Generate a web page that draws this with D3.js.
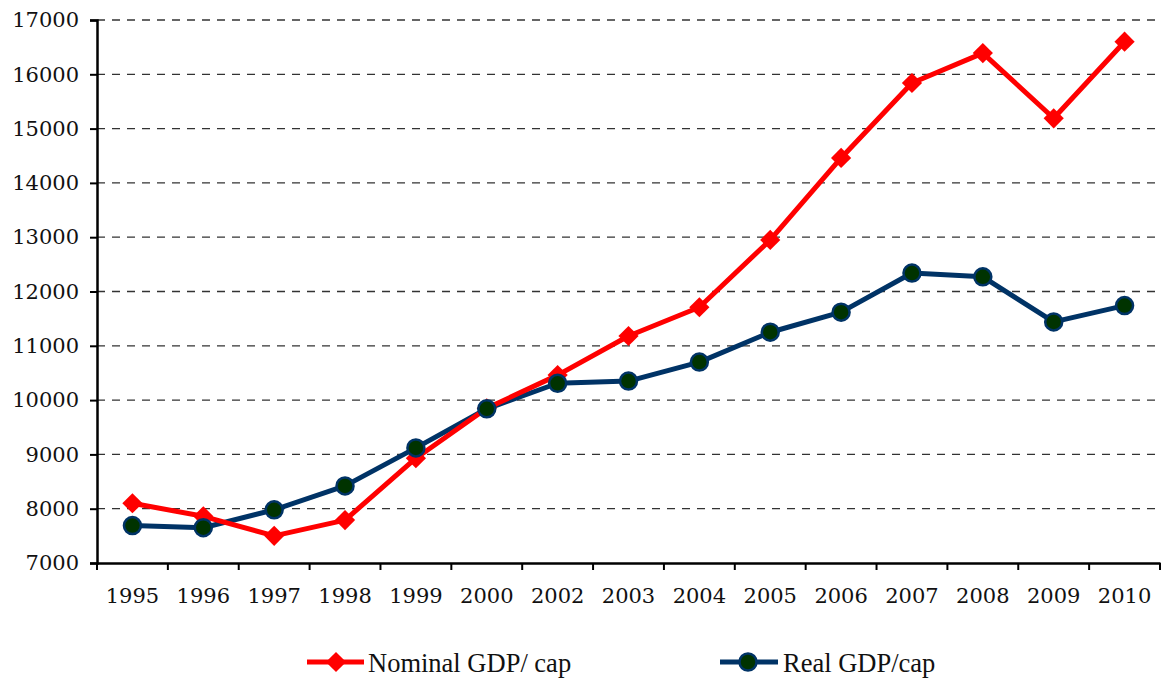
<!DOCTYPE html>
<html><head><meta charset="utf-8">
<script src="https://cdn.jsdelivr.net/npm/d3@7"></script>
<style>body{margin:0;background:#fff}svg{display:block}</style>
</head><body>
<script>
const years = ["1995","1996","1997","1998","1999","2000","2002","2003","2004","2005","2006","2007","2008","2009","2010"];
const nominal = [8100,7860,7500,7790,8930,9850,10460,11180,11710,12950,14460,15840,16390,15190,16600];
const real = [7690,7650,7980,8420,9120,9840,10310,10350,10700,11250,11620,12340,12270,11440,11740];
const yTicks = [7000,8000,9000,10000,11000,12000,13000,14000,15000,16000,17000];
const seriesNames = ["Nominal GDP/ cap","Real GDP/cap"];

(function(){
const W = 1161, H = 679;
const svg = d3.select("body").append("svg").attr("width",W).attr("height",H);
const mL = 97, mR = 1160, mT = 20, mB = 563;
const x = d3.scaleBand().domain(years).range([mL,mR]);
const y = d3.scaleLinear().domain([7000,17000]).range([mB,mT]);
const font = "DejaVu Serif";

// gridlines
svg.append("g").selectAll("line").data(yTicks.slice(1)).join("line")
  .attr("x1",mL).attr("x2",mR).attr("y1",d=>y(d)).attr("y2",d=>y(d))
  .attr("stroke","#333").attr("stroke-width",1.3).attr("stroke-dasharray","8,7");

// y axis
const ya = svg.append("g").attr("transform",`translate(${mL},0)`)
  .call(d3.axisLeft(y).tickValues(yTicks).tickSize(7).tickPadding(11).tickFormat(d3.format("d")));
ya.select(".domain").attr("stroke","#000").attr("stroke-width",2.5);
ya.selectAll(".tick line").attr("stroke","#000").attr("stroke-width",2);
ya.selectAll("text").attr("font-family",font).attr("font-size",21).attr("fill","#111");

// x axis
const xa = svg.append("g").attr("transform",`translate(0,${mB})`)
  .call(d3.axisBottom(x).tickSize(0).tickPadding(25));
xa.select(".domain").attr("stroke","#000").attr("stroke-width",2.5);
xa.selectAll("text").attr("font-family",font).attr("font-size",21).attr("fill","#111");
xa.append("g").selectAll("line").data(years.concat(["end"])).join("line")
  .attr("x1",(d,i)=> i<years.length ? x(d) : mR).attr("x2",(d,i)=> i<years.length ? x(d) : mR)
  .attr("y1",0).attr("y2",7).attr("stroke","#000").attr("stroke-width",2);

const cx = d => x(d) + x.bandwidth()/2;
const line = d3.line().x((d,i)=>cx(years[i])).y(d=>y(d));

// real
svg.append("path").datum(real).attr("d",line).attr("fill","none")
  .attr("stroke","#003366").attr("stroke-width",5).attr("stroke-linejoin","round");
// nominal
svg.append("path").datum(nominal).attr("d",line).attr("fill","none")
  .attr("stroke","#ff0000").attr("stroke-width",5).attr("stroke-linejoin","round");

const diamond = d3.symbol().type(d3.symbolDiamond2).size(260);
svg.append("g").selectAll("path").data(nominal).join("path")
  .attr("d",diamond).attr("transform",(d,i)=>`translate(${cx(years[i])},${y(d)})`)
  .attr("fill","#ff0000");
svg.append("g").selectAll("circle").data(real).join("circle")
  .attr("cx",(d,i)=>cx(years[i])).attr("cy",d=>y(d)).attr("r",8.5)
  .attr("fill","#003300").attr("stroke","#003366").attr("stroke-width",2.5);

// legend
const lg = svg.append("g");
const ly = 662;
const lf = "Liberation Serif";
lg.append("line").attr("x1",307).attr("x2",364).attr("y1",ly).attr("y2",ly).attr("stroke","#ff0000").attr("stroke-width",5);
lg.append("path").attr("d",diamond).attr("transform",`translate(336,${ly})`).attr("fill","#ff0000");
lg.append("text").attr("x",368).attr("y",ly+10).text(seriesNames[0])
  .attr("font-family",lf).attr("font-size",26.5).attr("fill","#111");
lg.append("line").attr("x1",720).attr("x2",778).attr("y1",ly).attr("y2",ly).attr("stroke","#003366").attr("stroke-width",5);
lg.append("circle").attr("cx",748).attr("cy",ly).attr("r",8.5).attr("fill","#003300").attr("stroke","#003366").attr("stroke-width",2.5);
lg.append("text").attr("x",783).attr("y",ly+10).text(seriesNames[1])
  .attr("font-family",lf).attr("font-size",26.5).attr("fill","#111");
})();
</script>
</body></html>
